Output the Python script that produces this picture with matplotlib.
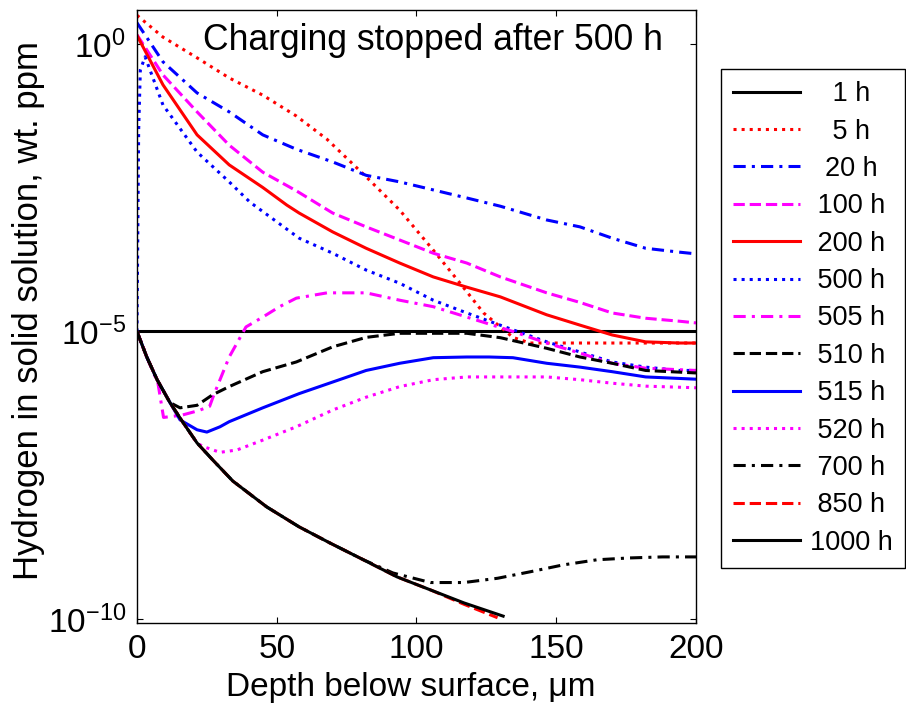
import matplotlib
matplotlib.use('Agg')
import matplotlib.pyplot as plt

plt.rcParams['font.family'] = ['Liberation Sans', 'DejaVu Sans']
plt.rcParams['mathtext.default'] = 'regular'

# depth below surface (um) and hydrogen concentration (wt. ppm) for each time
x_1h = [0, 200]
c_1h = [1.0e-5, 1.0e-5]

x_5h = [0, 9.3, 21.5, 33, 45, 57, 68, 82, 94, 106, 115.6, 124, 134.5, 140.6, 160, 180, 200]
c_5h = [3.16, 1.32, 0.575, 0.257, 0.129, 5.6e-2, 2.2e-2, 4.9e-3, 1.29e-3, 2.6e-4, 6.9e-5,
        2.1e-5, 7.9e-6, 6.3e-6, 6.3e-6, 6.3e-6, 6.3e-6]

x_20h = [0, 9.3, 21.5, 33, 45, 57, 70, 82, 94, 106, 118, 130, 146.6, 158.5, 170, 182, 194, 200]
c_20h = [2.34, 0.49, 0.141, 6.6e-2, 2.63e-2, 1.48e-2, 8.9e-3, 5.2e-3, 4.0e-3, 2.9e-3, 2.1e-3,
         1.51e-3, 8.7e-4, 6.6e-4, 4.2e-4, 2.8e-4, 2.4e-4, 2.24e-4]

x_100h = [0, 9.3, 21.5, 33, 45, 57, 70, 82, 94, 106, 118, 130, 146.6, 158.5, 170, 182, 194, 200]
c_100h = [1.45, 0.29, 6.6e-2, 1.74e-2, 5.9e-3, 2.8e-3, 1.15e-3, 6.6e-4, 3.9e-4, 2.3e-4, 1.55e-4,
          8.9e-5, 4.7e-5, 3.2e-5, 2.1e-5, 1.7e-5, 1.51e-5, 1.41e-5]

x_200h = [0, 9.3, 21.5, 33, 45, 53.6, 58, 70, 82, 94, 106, 118, 130, 146.6, 158.5, 170, 182, 194, 200]
c_200h = [1.41, 0.195, 2.63e-2, 7.9e-3, 3.2e-3, 1.58e-3, 1.15e-3, 5.4e-4, 2.8e-4, 1.55e-4, 8.9e-5,
          5.9e-5, 4.0e-5, 1.95e-5, 1.29e-5, 8.7e-6, 6.6e-6, 6.3e-6, 6.3e-6]

x_500h = [0, 0.6, 1.2, 2.9, 9.3, 21.5, 33, 40.4, 58, 70, 82, 94, 106, 118, 134.5, 146.6, 158.5,
          170, 182, 194, 200]
c_500h = [1.0e-5, 3.2e-2, 0.355, 0.60, 8.7e-2, 1.32e-2, 4.0e-3, 1.78e-3, 4.2e-4, 2.3e-4, 1.17e-4,
          6.9e-5, 3.5e-5, 2.1e-5, 1.07e-5, 6.6e-6, 4.4e-6, 2.95e-6, 2.4e-6, 2.1e-6, 2.1e-6]

x_505h = [0, 3.5, 7.5, 9.5, 16, 22, 26, 27.5, 33, 39, 45, 51, 57, 68, 82, 94, 106, 118, 134.5,
          146.6, 158.5, 170, 182, 200]
c_505h = [1.0e-5, 3.6e-6, 1.26e-6, 3.2e-7, 3.5e-7, 4.2e-7, 5.0e-7, 7.9e-7, 3.6e-6, 1.2e-5, 1.78e-5,
          2.7e-5, 3.8e-5, 4.7e-5, 4.7e-5, 3.5e-5, 2.7e-5, 1.78e-5, 1.0e-5, 6.3e-6, 4.2e-6, 2.8e-6,
          2.3e-6, 2.1e-6]

x_510h = [0, 3.5, 7.2, 11.8, 15.4, 21.5, 27, 33, 45, 57, 70, 82, 94, 106, 118, 130, 146.6, 158.5,
          170, 182, 200]
c_510h = [1.0e-5, 3.6e-6, 1.45e-6, 5.8e-7, 4.7e-7, 5.2e-7, 7.9e-7, 1.1e-6, 2.0e-6, 2.95e-6, 5.4e-6,
          7.9e-6, 9.3e-6, 9.3e-6, 9.3e-6, 7.8e-6, 5.1e-6, 3.6e-6, 2.8e-6, 2.1e-6, 1.9e-6]

x_515h = [0, 3.5, 7.2, 11.8, 15.4, 21.5, 25, 29.7, 33, 45, 58, 70, 82, 94, 106, 118, 126, 134.5,
          146.6, 158.5, 170, 182, 200]
c_515h = [1.0e-5, 3.6e-6, 1.45e-6, 5.8e-7, 2.9e-7, 1.95e-7, 1.78e-7, 2.2e-7, 2.7e-7, 4.7e-7, 8.3e-7,
          1.32e-6, 2.1e-6, 2.8e-6, 3.5e-6, 3.6e-6, 3.6e-6, 3.5e-6, 2.8e-6, 2.4e-6, 2.0e-6, 1.62e-6,
          1.48e-6]

x_520h = [0, 3.5, 7.2, 11.8, 16.5, 21.5, 23.6, 29.7, 35.8, 45, 57, 70, 82, 94, 106, 118, 130, 146.6,
          158.5, 170, 182, 200]
c_520h = [1.0e-5, 3.6e-6, 1.45e-6, 5.8e-7, 2.6e-7, 1.15e-7, 1.0e-7, 7.9e-8, 8.7e-8, 1.29e-7, 2.2e-7,
          4.3e-7, 7.2e-7, 1.1e-6, 1.45e-6, 1.62e-6, 1.62e-6, 1.62e-6, 1.45e-6, 1.26e-6, 1.12e-6,
          1.05e-6]

x_700h = [0, 3.5, 7.2, 11.8, 16.5, 21.5, 27, 34.3, 46.4, 58, 69, 81, 91.6, 105, 117, 129, 140.6,
          152.4, 164.6, 176, 188, 200]
c_700h = [1.0e-5, 3.6e-6, 1.45e-6, 5.8e-7, 2.6e-7, 1.15e-7, 5.9e-8, 2.5e-8, 8.9e-9, 4.0e-9, 2.1e-9,
          1.07e-9, 6.3e-10, 4.3e-10, 4.3e-10, 5.1e-10, 6.6e-10, 8.7e-10, 1.07e-9, 1.15e-9, 1.2e-9,
          1.2e-9]

x_850h = [0, 3.5, 7.2, 11.8, 16.5, 21.5, 27, 34.3, 46.4, 58, 69, 81, 93, 105, 117, 129]
c_850h = [1.0e-5, 3.6e-6, 1.45e-6, 5.8e-7, 2.6e-7, 1.15e-7, 5.9e-8, 2.5e-8, 8.9e-9, 4.0e-9, 2.1e-9,
          1.07e-9, 5.4e-10, 3.2e-10, 1.8e-10, 1.05e-10]

x_1000h = [0, 3.5, 7.2, 11.8, 16.5, 21.5, 27, 34.3, 46.4, 58, 69, 81, 93, 105, 117, 131]
c_1000h = [1.0e-5, 3.6e-6, 1.45e-6, 5.8e-7, 2.6e-7, 1.15e-7, 5.9e-8, 2.5e-8, 8.9e-9, 4.0e-9, 2.1e-9,
           1.07e-9, 5.4e-10, 3.2e-10, 1.9e-10, 1.12e-10]

# legend entries, padded so they sit centred in the box
labels = ['   1 h', '   5 h', '  20 h', ' 100 h', ' 200 h', ' 500 h', ' 505 h', ' 510 h',
          ' 515 h', ' 520 h', ' 700 h', ' 850 h', '1000 h']

dashdot = (0, (4, 2, 1, 2))
series = [
    (x_1h, c_1h, 'k', '-'),
    (x_5h, c_5h, '#ff0000', ':'),
    (x_20h, c_20h, '#0000ff', dashdot),
    (x_100h, c_100h, '#ff00ff', '--'),
    (x_200h, c_200h, '#ff0000', '-'),
    (x_500h, c_500h, '#0000ff', ':'),
    (x_505h, c_505h, '#ff00ff', dashdot),
    (x_510h, c_510h, 'k', '--'),
    (x_515h, c_515h, '#0000ff', '-'),
    (x_520h, c_520h, '#ff00ff', ':'),
    (x_700h, c_700h, 'k', dashdot),
    (x_850h, c_850h, '#ff0000', '--'),
    (x_1000h, c_1000h, 'k', '-'),
]

fig = plt.figure(figsize=(9.06, 7.07), dpi=100)
ax = fig.add_axes([0.1512, 0.1188, 0.617, 0.867])

for (xs, cs, color, ls), lab in zip(series, labels):
    ax.plot(xs, cs, color=color, linestyle=ls, linewidth=2.2, label=lab)

ax.set_yscale('log')
ax.set_xlim(0, 200)
ax.set_ylim(8.5e-11, 3.9)
ax.set_xticks([0, 50, 100, 150, 200])
ax.set_yticks([1e-10, 1e-5, 1e0])
ax.yaxis.set_minor_locator(matplotlib.ticker.NullLocator())
ax.tick_params(direction='in', top=True, right=True, length=4, width=0.8,
               labelsize=24, pad=8)
for sp in ax.spines.values():
    sp.set_linewidth(1.0)

ax.set_xlabel('Depth below surface, μm', fontsize=24)
ax.set_ylabel('Hydrogen in solid solution, wt. ppm', fontsize=25)
ax.xaxis.set_label_coords(0.49, -0.08)
ax.yaxis.set_label_coords(-0.165, 0.509)

ax.text(0.118, 0.951, 'Charging stopped after 500 h', transform=ax.transAxes,
        ha='left', va='center', fontsize=25.6)

leg = ax.legend(loc='upper left', bbox_to_anchor=(721 / 906, 1 - 69 / 707),
                bbox_transform=fig.transFigure, fontsize=19.5, frameon=True,
                fancybox=False, framealpha=1, edgecolor='k', borderaxespad=0,
                borderpad=0.45, handlelength=2.45, handletextpad=0.4, labelspacing=0.42)
leg.get_frame().set_linewidth(1.0)

fig.savefig('out.png', dpi=100)
